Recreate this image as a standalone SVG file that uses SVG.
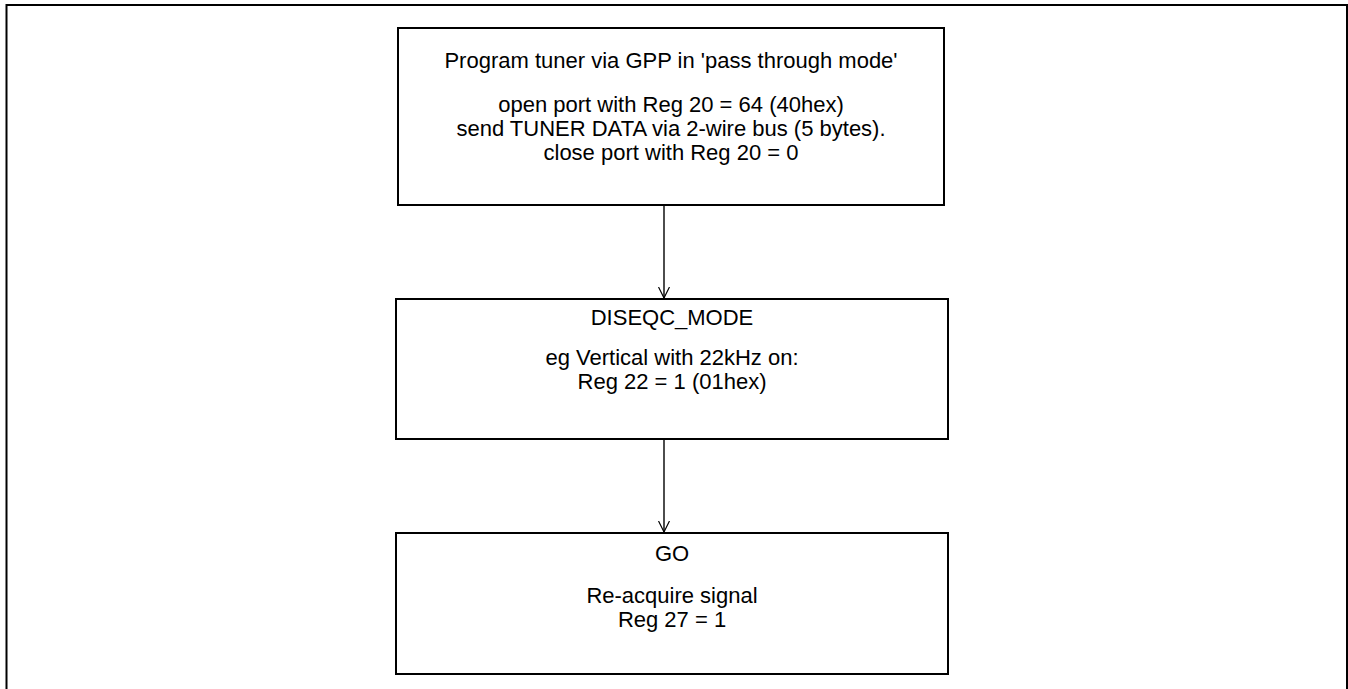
<svg xmlns="http://www.w3.org/2000/svg" width="1348" height="689" viewBox="0 0 1348 689">
<style>
.box{fill:#fff;stroke:#000;stroke-width:2}
.frame{fill:none;stroke:#000;stroke-width:2}
.t{font-family:"Liberation Sans",Arial,sans-serif;font-size:22px;fill:#000;text-anchor:middle}
.c{fill:none;stroke:#000;stroke-width:1.4}
</style>
<defs>
<marker id="arr" markerWidth="12" markerHeight="12" refX="11" refY="6" orient="auto" markerUnits="userSpaceOnUse">
<path d="M0,0.5 L11,6 L0,11.5" fill="none" stroke="#000" stroke-width="1.2"/>
</marker>
</defs>
<path class="frame" d="M6.5,689 L6.5,5 L1347,5 L1347,689"/>
<g id="node-tuner">
<rect class="box" x="398" y="28" width="546" height="177"/>
<text class="t" x="671" y="68">Program tuner via GPP in 'pass through mode'</text>
<text class="t" x="671" y="112">open port with Reg 20 = 64 (40hex)</text>
<text class="t" x="671" y="136">send TUNER DATA via 2-wire bus (5 bytes).</text>
<text class="t" x="671" y="160">close port with Reg 20 = 0</text>
</g>
<g id="node-diseqc">
<rect class="box" x="396" y="299" width="552" height="140"/>
<text class="t" x="672" y="325">DISEQC_MODE</text>
<text class="t" x="672" y="365">eg Vertical with 22kHz on:</text>
<text class="t" x="672" y="389">Reg 22 = 1 (01hex)</text>
</g>
<g id="node-go">
<rect class="box" x="396" y="533" width="552" height="141"/>
<text class="t" x="672" y="561">GO</text>
<text class="t" x="672" y="603">Re-acquire signal</text>
<text class="t" x="672" y="627">Reg 27 = 1</text>
</g>
<g id="connectors">
<line class="c" x1="664" y1="205" x2="664" y2="298" marker-end="url(#arr)"/>
<line class="c" x1="664" y1="439" x2="664" y2="532" marker-end="url(#arr)"/>
</g>
</svg>
